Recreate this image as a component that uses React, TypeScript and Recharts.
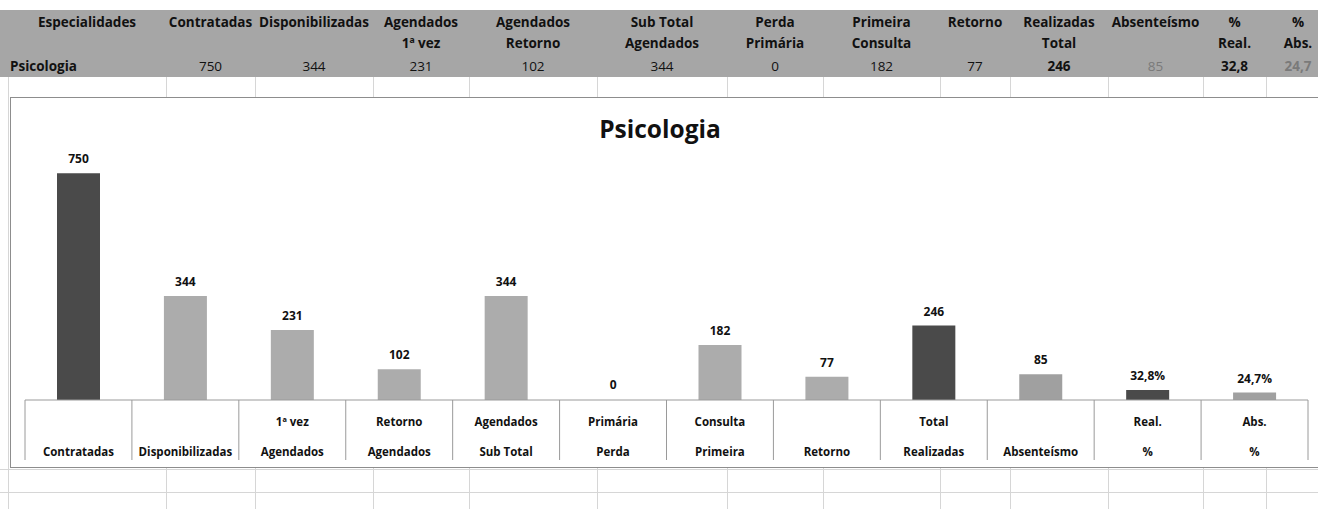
import React from 'react';
import { BarChart, Bar, XAxis, YAxis, LabelList, Cell } from 'recharts';

// planilha (cabeçalho)
const headerTop = ['Especialidades', 'Contratadas', 'Disponibilizadas', 'Agendados', 'Agendados', 'Sub Total', 'Perda', 'Primeira', 'Retorno', 'Realizadas', 'Absenteísmo', '%', '%'];
const headerBottom = ['', '', '', '1ª vez', 'Retorno', 'Agendados', 'Primária', 'Consulta', '', 'Total', '', 'Real.', 'Abs.'];
const rowValues = ['Psicologia', '750', '344', '231', '102', '344', '0', '182', '77', '246', '85', '32,8', '24,7'];

// gráfico
const categoryTop = ['', '', '1ª vez', 'Retorno', 'Agendados', 'Primária', 'Consulta', '', 'Total', '', 'Real.', 'Abs.'];
const categoryBottom = ['Contratadas', 'Disponibilizadas', 'Agendados', 'Agendados', 'Sub Total', 'Perda', 'Primeira', 'Retorno', 'Realizadas', 'Absenteísmo', '%', '%'];
const values = [750, 344, 231, 102, 344, 0, 182, 77, 246, 85, 32.8, 24.7];
const valueLabels = ['750', '344', '231', '102', '344', '0', '182', '77', '246', '85', '32,8%', '24,7%'];

const DARK = '#4a4a4a';
const LIGHT = '#acacac';
const MID = '#a0a0a0';
const barColors = [DARK, LIGHT, LIGHT, LIGHT, LIGHT, LIGHT, LIGHT, LIGHT, DARK, MID, DARK, MID];

const COLS = [8, 166, 255, 373, 469, 597, 727, 823, 940, 1010, 1108, 1203, 1266, 1330];
const GRID = '#d6d6d6';
const FONT = '"Open Sans", Lato, sans-serif';

const PLOT_LEFT = 25;
const PLOT_WIDTH = 1283;
const BAND = PLOT_WIDTH / categoryBottom.length;

const chartData = categoryBottom.map((name, i) => ({
  name: `${categoryTop[i]} ${name}`.trim(),
  value: values[i],
  label: valueLabels[i],
}));

function CategoryTick(props: any) {
  const { x, y, payload } = props;
  const i = payload.index;
  const left = x - BAND / 2;
  return (
    <g>
      <line x1={left} y1={y} x2={left} y2={y + 60} stroke="#9a9a9a" />
      {i === categoryBottom.length - 1 && (
        <line x1={left + BAND} y1={y} x2={left + BAND} y2={y + 60} stroke="#9a9a9a" />
      )}
      <text x={x} y={y + 26} textAnchor="middle" fontSize={11.5} fontWeight={700} fontFamily={FONT} fill="#111">
        {categoryTop[i]}
      </text>
      <text x={x} y={y + 56} textAnchor="middle" fontSize={11.5} fontWeight={700} fontFamily={FONT} fill="#111">
        {categoryBottom[i]}
      </text>
    </g>
  );
}

export default function App() {
  return (
    <div
      style={{
        position: 'absolute',
        left: 0,
        top: 0,
        width: 1318,
        height: 509,
        overflow: 'hidden',
        background: '#fff',
        fontFamily: FONT,
      }}
    >
      {/* cabeçalho cinza */}
      <div style={{ position: 'absolute', left: 0, top: 10, width: 1318, height: 67, background: '#a6a6a6' }} />
      {headerTop.map((t, i) => (
        <div
          key={`h-${i}`}
          style={{
            position: 'absolute',
            left: COLS[i],
            width: COLS[i + 1] - COLS[i],
            top: 12,
            fontSize: 13.5,
            fontWeight: 700,
            color: '#111',
            textAlign: 'center',
            lineHeight: '21px',
            whiteSpace: 'nowrap',
          }}
        >
          <div>{t}</div>
          <div>{headerBottom[i] || '\u00a0'}</div>
        </div>
      ))}
      {rowValues.map((v, i) => {
        const bold = i === 0 || i === 9 || i === 11 || i === 12;
        const grey = i === 10 || i === 12;
        return (
          <div
            key={`v-${i}`}
            style={{
              position: 'absolute',
              left: i === 0 ? 10 : COLS[i],
              width: i === 0 ? 150 : COLS[i + 1] - COLS[i],
              top: 56,
              fontSize: 13.5,
              fontWeight: bold ? 700 : 400,
              color: grey ? '#7a7a7a' : '#111',
              textAlign: i === 0 ? 'left' : 'center',
              lineHeight: '21px',
              whiteSpace: 'nowrap',
            }}
          >
            {v}
          </div>
        );
      })}

      {/* grade da planilha */}
      {COLS.slice(0, -1).map((c, i) => (
        <React.Fragment key={`g-${i}`}>
          <div style={{ position: 'absolute', left: c, top: 77, width: 1, height: 21, background: GRID }} />
          <div style={{ position: 'absolute', left: c, top: 467, width: 1, height: 42, background: GRID }} />
        </React.Fragment>
      ))}
      <div style={{ position: 'absolute', left: 8, top: 98, width: 1, height: 370, background: GRID }} />
      <div style={{ position: 'absolute', left: 0, top: 469, width: 1318, height: 1, background: GRID }} />
      <div style={{ position: 'absolute', left: 0, top: 492, width: 1318, height: 1, background: GRID }} />

      {/* área do gráfico */}
      <div
        style={{
          position: 'absolute',
          left: 10,
          top: 97,
          width: 1330,
          height: 369,
          border: '1px solid #8d8d8d',
          background: '#fff',
        }}
      />
      <div
        style={{
          position: 'absolute',
          left: 510,
          width: 300,
          top: 112,
          textAlign: 'center',
          fontSize: 24.5,
          fontWeight: 700,
          color: '#111',
        }}
      >
        Psicologia
      </div>
      <div style={{ position: 'absolute', left: 0, top: 98 }}>
        <BarChart
          width={1318}
          height={369}
          data={chartData}
          margin={{ top: 60, right: 1318 - PLOT_LEFT - PLOT_WIDTH, bottom: 0, left: PLOT_LEFT }}
        >
          <XAxis
            dataKey="name"
            interval={0}
            height={67}
            tickSize={0}
            tickMargin={0}
            tickLine={false}
            axisLine={{ stroke: '#9a9a9a' }}
            tick={<CategoryTick />}
          />
          <YAxis hide domain={[0, 800]} />
          <Bar
            dataKey="value"
            barSize={43}
            minPointSize={(v: number) => (v === 0 ? 1 : 0)}
            isAnimationActive={false}
          >
            {chartData.map((d, i) => (
              <Cell key={d.name} fill={d.value === 0 ? 'none' : barColors[i]} />
            ))}
            <LabelList
              dataKey="label"
              position="top"
              offset={10}
              style={{ fontSize: 12, fontWeight: 700, fontFamily: FONT, fill: '#111' }}
            />
          </Bar>
        </BarChart>
      </div>
    </div>
  );
}
